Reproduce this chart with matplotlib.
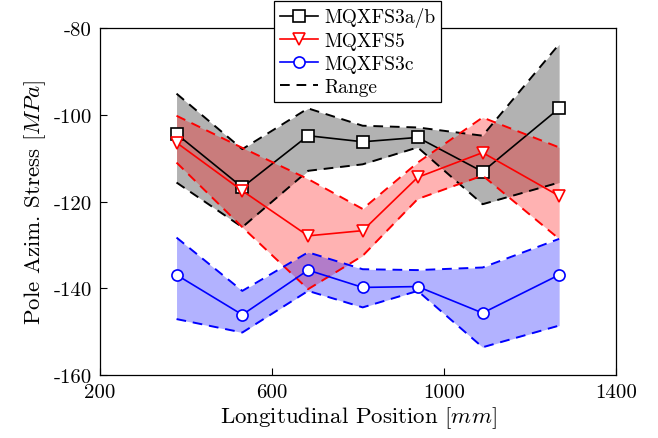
import numpy as np
import matplotlib
matplotlib.use('Agg')
import matplotlib.pyplot as plt

plt.rcParams['font.family'] = 'cmr10'
plt.rcParams['mathtext.fontset'] = 'cm'
plt.rcParams['axes.unicode_minus'] = False
plt.rcParams['axes.formatter.use_mathtext'] = False

# longitudinal positions [mm]
pos = [378, 531, 684, 811, 939, 1090, 1268]

# MQXFS3a/b
s3ab_mean = [-104.4, -116.7, -104.8, -106.2, -105.2, -113.1, -98.5]
s3ab_max = [-95.1, -107.9, -98.5, -102.5, -102.9, -104.8, -83.7]
s3ab_min = [-115.6, -125.9, -112.9, -111.4, -107.5, -120.6, -115.6]

# MQXFS5
s5_mean = [-106.4, -117.5, -127.9, -126.7, -114.4, -108.7, -118.7]
s5_max = [-100.2, -107.6, -114.8, -121.7, -111.0, -100.6, -107.5]
s5_min = [-111.0, -125.9, -140.2, -132.5, -119.4, -114.0, -128.6]

# MQXFS3c
s3c_mean = [-136.9, -146.1, -135.8, -139.8, -139.6, -145.7, -136.9]
s3c_max = [-128.3, -140.6, -131.7, -135.6, -135.8, -135.2, -128.6]
s3c_min = [-147.1, -150.2, -140.6, -144.4, -140.6, -153.6, -148.6]

series = [
    ('MQXFS3a/b', 'k', 's', s3ab_mean, s3ab_max, s3ab_min),
    ('MQXFS5', 'r', 'v', s5_mean, s5_max, s5_min),
    ('MQXFS3c', 'b', 'o', s3c_mean, s3c_max, s3c_min),
]

fig = plt.figure(figsize=(6.58, 4.39), dpi=100)
ax = fig.add_axes([0.152, 0.1435, 0.784, 0.790])

dash = (5, 3.5)
handles = []
for name, c, m, mean, hi, lo in series:
    ax.fill_between(pos, lo, hi, color=c, alpha=0.3, linewidth=0)
    ax.plot(pos, hi, '--', color=c, lw=1.4, dashes=dash)
    ax.plot(pos, lo, '--', color=c, lw=1.4, dashes=dash)
    h, = ax.plot(pos, mean, '-', color=c, marker=m, mfc='white', mec=c,
                 ms=8, lw=1.2, mew=1.2, label=name)
    handles.append(h)

rng, = ax.plot([], [], '--', color='k', lw=1.4, dashes=dash, label='Range')
handles.append(rng)

ax.set_xlim(200, 1400)
ax.set_ylim(-160, -80)
ax.set_xticks([200, 600, 1000, 1400])
ax.set_yticks([-160, -140, -120, -100, -80])
ax.tick_params(direction='in', labelsize=15, length=5, width=0.8, pad=6)
for sp in ax.spines.values():
    sp.set_linewidth(0.9)

ax.set_xlabel('Longitudinal Position $[mm]$', fontsize=16.5, labelpad=2)
ax.set_ylabel('Pole Azim. Stress $[MPa]$', fontsize=16.5, labelpad=4)

leg = ax.legend(handles=handles, loc='upper center', bbox_to_anchor=(0.499, 1.077),
                fontsize=14, frameon=True, fancybox=False, edgecolor='k',
                framealpha=1, handlelength=2.0, borderpad=0.3, labelspacing=0.25,
                handletextpad=0.3, borderaxespad=0)
leg.get_frame().set_linewidth(0.9)

fig.savefig('out.png', dpi=100)
